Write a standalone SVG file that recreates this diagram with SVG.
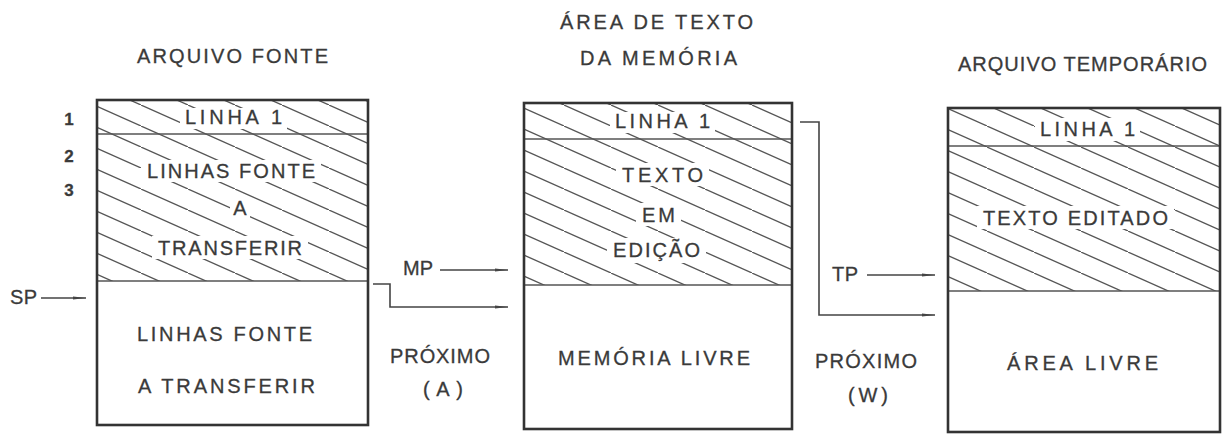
<svg xmlns="http://www.w3.org/2000/svg" width="1229" height="434" viewBox="0 0 1229 434">
<style>
text{font-family:"Liberation Sans",Arial,sans-serif;font-size:20px;fill:#3a3a3a;stroke:#3a3a3a;stroke-width:0.3;text-anchor:middle}
.num{font-size:17px;font-weight:bold}
.border{fill:none;stroke:#333;stroke-width:2.6}
.div{stroke:#555;stroke-width:1.6;fill:none}
.hatch{fill:url(#h);stroke:none}
.gap{fill:#fff}
.conn{fill:none;stroke:#444;stroke-width:1.6}
</style>
<defs>
<pattern id="h" patternUnits="userSpaceOnUse" width="47" height="21">
<line x1="0" y1="0" x2="47" y2="21" stroke="#555" stroke-width="1.3"/>
</pattern>
<marker id="arr" markerUnits="userSpaceOnUse" markerWidth="14" markerHeight="6" refX="13" refY="3" orient="auto">
<path d="M0,1.5 L13,3 L0,4.5 z" fill="#444"/>
</marker>
</defs>

<g id="titles">
<text x="232.5" y="63" textLength="191" lengthAdjust="spacing">ARQUIVO FONTE</text>
<text x="656.5" y="29" textLength="193" lengthAdjust="spacing">ÁREA DE TEXTO</text>
<text x="658.5" y="65" textLength="157" lengthAdjust="spacing">DA MEMÓRIA</text>
<text x="1082.5" y="71" textLength="249" lengthAdjust="spacing">ARQUIVO TEMPORÁRIO</text>
</g>

<g id="arquivo-fonte">
<rect class="hatch" x="97" y="100" width="271" height="181"/>
<rect class="gap" x="180" y="108" width="107" height="21"/>
<rect class="gap" x="141" y="160" width="180" height="22"/>
<rect class="gap" x="230" y="197" width="20" height="22"/>
<rect class="gap" x="152" y="236" width="156" height="23"/>
<line class="div" x1="97" y1="134" x2="368" y2="134"/>
<line class="div" x1="97" y1="281" x2="368" y2="281"/>
<rect class="border" x="97" y="100" width="271" height="325"/>
<text x="233.5" y="124" textLength="97" lengthAdjust="spacing">LINHA 1</text>
<text x="231" y="178" textLength="168" lengthAdjust="spacing">LINHAS FONTE</text>
<text x="240" y="215">A</text>
<text x="230" y="255" textLength="144" lengthAdjust="spacing">TRANSFERIR</text>
<text x="224.5" y="341" textLength="175" lengthAdjust="spacing">LINHAS FONTE</text>
<text x="226.5" y="393" textLength="177" lengthAdjust="spacing">A TRANSFERIR</text>
</g>

<g id="numeros">
<text class="num" x="69" y="125">1</text>
<text class="num" x="69" y="162">2</text>
<text class="num" x="69" y="196">3</text>
</g>

<g id="area-texto-memoria">
<rect class="hatch" x="524" y="103" width="268" height="182"/>
<rect class="gap" x="610" y="112" width="105" height="21"/>
<rect class="gap" x="616" y="163" width="93" height="23"/>
<rect class="gap" x="636" y="203" width="45" height="23"/>
<rect class="gap" x="607" y="238" width="99" height="25"/>
<line class="div" x1="524" y1="139" x2="792" y2="139"/>
<line class="div" x1="524" y1="285" x2="792" y2="285"/>
<rect class="border" x="524" y="103" width="268" height="326"/>
<text x="662.5" y="128" textLength="95" lengthAdjust="spacing">LINHA 1</text>
<text x="662.5" y="182" textLength="81" lengthAdjust="spacing">TEXTO</text>
<text x="658.5" y="222" textLength="33" lengthAdjust="spacing">EM</text>
<text x="656.5" y="257" textLength="87" lengthAdjust="spacing">EDIÇÃO</text>
<text x="654" y="365" textLength="192" lengthAdjust="spacing">MEMÓRIA LIVRE</text>
</g>

<g id="arquivo-temporario">
<rect class="hatch" x="948" y="108" width="272" height="183"/>
<rect class="gap" x="1035" y="118" width="105" height="23"/>
<rect class="gap" x="977" y="206" width="197" height="23"/>
<line class="div" x1="948" y1="146" x2="1220" y2="146"/>
<line class="div" x1="948" y1="291" x2="1220" y2="291"/>
<rect class="border" x="948" y="108" width="272" height="324"/>
<text x="1087.5" y="136" textLength="95" lengthAdjust="spacing">LINHA 1</text>
<text x="1075.5" y="225" textLength="185" lengthAdjust="spacing">TEXTO EDITADO</text>
<text x="1082.5" y="370" textLength="151" lengthAdjust="spacing">ÁREA LIVRE</text>
</g>

<g id="ponteiros">
<text x="23.5" y="304" textLength="27" lengthAdjust="spacing">SP</text>
<text x="418" y="275" textLength="30" lengthAdjust="spacing">MP</text>
<text x="845" y="281" textLength="26" lengthAdjust="spacing">TP</text>
<text x="440" y="363" textLength="100" lengthAdjust="spacing">PRÓXIMO</text>
<text x="443" y="396" textLength="40" lengthAdjust="spacing">(A)</text>
<text x="866" y="368" textLength="102" lengthAdjust="spacing">PRÓXIMO</text>
<text x="868" y="402" textLength="40" lengthAdjust="spacing">(W)</text>
</g>

<g id="connectors">
<line class="conn" x1="41" y1="298" x2="86" y2="298" marker-end="url(#arr)"/>
<line class="conn" x1="440" y1="270" x2="508" y2="270" marker-end="url(#arr)"/>
<path class="conn" d="M373,284 H390 V307 H508" marker-end="url(#arr)"/>
<line class="conn" x1="867" y1="275" x2="935" y2="275" marker-end="url(#arr)"/>
<path class="conn" d="M800,122 H819 V315 H935" marker-end="url(#arr)"/>
</g>
</svg>
